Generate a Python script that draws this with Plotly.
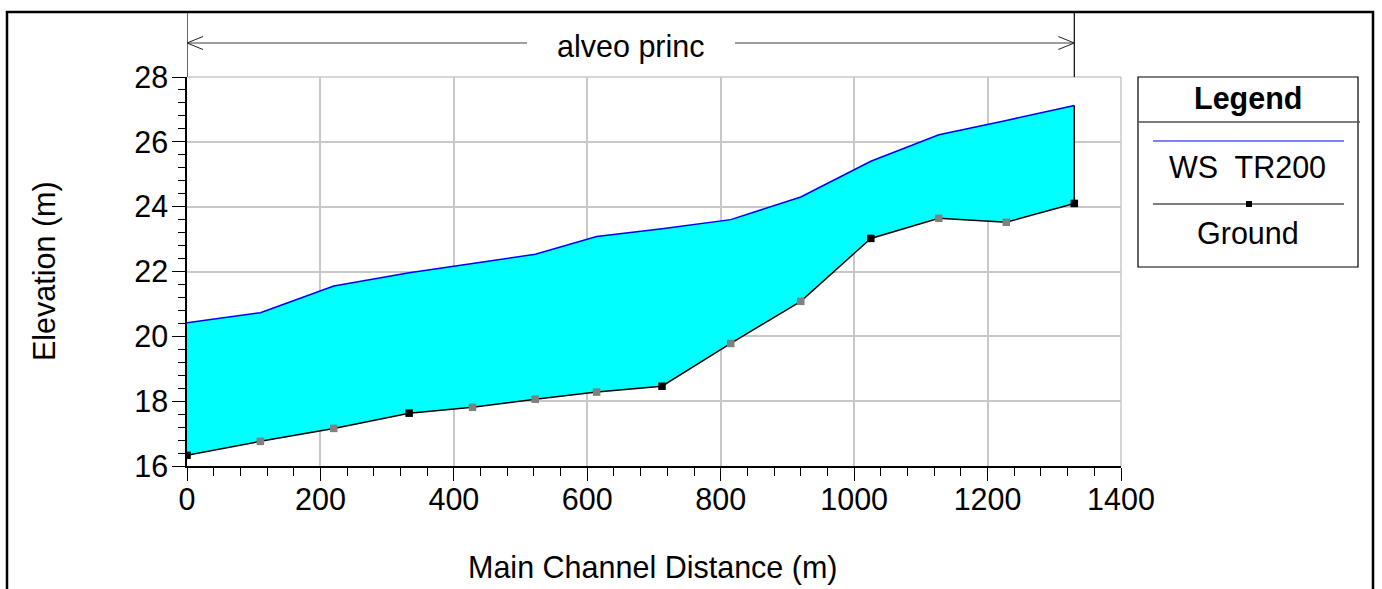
import plotly.graph_objects as go

# ---- data ----
distance = [0, 110, 220, 333, 428, 522, 614, 712, 815, 920, 1025, 1127, 1228, 1330]
ground = [16.33, 16.76, 17.16, 17.63, 17.81, 18.06, 18.28, 18.46, 19.78, 21.08, 23.02, 23.64, 23.52, 24.10]
ws_tr200 = [20.42, 20.73, 21.55, 21.96, 22.25, 22.53, 23.08, 23.32, 23.60, 24.30, 25.40, 26.22, 26.66, 27.12]
marker_is_section = [1, 0, 0, 1, 0, 0, 0, 1, 0, 0, 1, 0, 0, 1]
reach_label = "alveo princ"
x_ticks = [0, 200, 400, 600, 800, 1000, 1200, 1400]
y_ticks = [16, 18, 20, 22, 24, 26, 28]

FONT = "Liberation Sans, Arial, sans-serif"
FS = 30.5

W, H = 1382, 589
L, R, T, B = 187, 1121, 77, 466

def fx(px):
    return (px - L) / (R - L)

def fy(py):
    return (B - py) / (B - T)

fig = go.Figure()

# fill polygon between ground and water surface
fig.add_trace(go.Scatter(x=distance, y=ground, mode="lines",
                         line=dict(color="rgba(0,0,0,0)", width=0),
                         showlegend=False, hoverinfo="skip"))
fig.add_trace(go.Scatter(x=distance, y=ws_tr200, mode="lines", fill="tonexty",
                         fillcolor="#00FFFF", line=dict(color="#0000FF", width=1.5),
                         name="WS  TR200", showlegend=False))
# closing edge at downstream end
fig.add_trace(go.Scatter(x=[distance[-1], distance[-1]], y=[ground[-1], ws_tr200[-1]],
                         mode="lines", line=dict(color="black", width=1.5),
                         showlegend=False, hoverinfo="skip"))
# ground
fig.add_trace(go.Scatter(x=distance, y=ground, mode="lines+markers",
                         line=dict(color="black", width=1.5),
                         marker=dict(symbol="square", size=7.5,
                                     color=["#000000" if m else "#808080" for m in marker_is_section],
                                     line=dict(width=0)),
                         name="Ground", showlegend=False))

shapes = []
# outer frame
shapes.append(dict(type="rect", xref="paper", yref="paper",
                   x0=fx(7), x1=fx(1373), y0=fy(600), y1=fy(12),
                   line=dict(color="black", width=2.5), layer="above"))
# grey top / right borders of grid
shapes.append(dict(type="line", xref="paper", yref="paper", x0=0, x1=1, y0=1, y1=1,
                   line=dict(color="#c8c8c8", width=1.5), layer="below"))
shapes.append(dict(type="line", xref="paper", yref="paper", x0=1, x1=1, y0=0, y1=1,
                   line=dict(color="#c8c8c8", width=1.5), layer="below"))
# reach bank lines
for xv in (distance[0], distance[-1]):
    shapes.append(dict(type="line", xref="x", yref="paper", x0=xv, x1=xv,
                       y0=1, y1=fy(12), line=dict(color="black", width=1.2)))
# arrow
ay = fy(43)
x_left = distance[0]
x_right = distance[-1]
arrow_col = "#404040"
shapes.append(dict(type="line", xref="x", yref="paper", x0=x_left, x1=(527 - L) / (R - L) * 1400,
                   y0=ay, y1=ay, line=dict(color=arrow_col, width=1.2)))
shapes.append(dict(type="line", xref="x", yref="paper", x0=(735 - L) / (R - L) * 1400, x1=x_right,
                   y0=ay, y1=ay, line=dict(color=arrow_col, width=1.2)))
head_dx = 16 / (R - L) * 1400
for tip, sgn in ((x_left, 1), (x_right, -1)):
    for dy in (-6.5, 6.5):
        shapes.append(dict(type="line", xref="x", yref="paper", x0=tip, x1=tip + sgn * head_dx,
                           y0=ay, y1=fy(43 + dy), line=dict(color="#202020", width=1)))

# legend box
shapes.append(dict(type="rect", xref="paper", yref="paper",
                   x0=fx(1138), x1=fx(1358), y0=fy(267), y1=fy(77),
                   line=dict(color="black", width=1.2), fillcolor="white"))
shapes.append(dict(type="line", xref="paper", yref="paper",
                   x0=fx(1138), x1=fx(1360), y0=fy(122), y1=fy(122),
                   line=dict(color="#505050", width=1.5)))
shapes.append(dict(type="line", xref="paper", yref="paper",
                   x0=fx(1153), x1=fx(1344), y0=fy(141), y1=fy(141),
                   line=dict(color="#0000FF", width=1.2)))
shapes.append(dict(type="line", xref="paper", yref="paper",
                   x0=fx(1153), x1=fx(1344), y0=fy(204), y1=fy(204),
                   line=dict(color="black", width=1.2)))
shapes.append(dict(type="rect", xref="paper", yref="paper",
                   x0=fx(1246), x1=fx(1252), y0=fy(207), y1=fy(201),
                   line=dict(color="black", width=0), fillcolor="black"))

annotations = [
    dict(text=reach_label, xref="paper", yref="paper", x=fx(631), y=fy(47),
         showarrow=False, xanchor="center", yanchor="middle", font=dict(size=FS)),
    dict(text="Main Channel Distance (m)", xref="paper", yref="paper", x=fx(653), y=fy(567),
         showarrow=False, xanchor="center", yanchor="middle", font=dict(size=FS)),
    dict(text="Elevation (m)", xref="paper", yref="paper", x=fx(44), y=fy(271),
         showarrow=False, xanchor="center", yanchor="middle", textangle=-90, font=dict(size=FS)),
    dict(text="<b>Legend</b>", xref="paper", yref="paper", x=fx(1248), y=fy(98),
         showarrow=False, xanchor="center", yanchor="middle", font=dict(size=FS)),
    dict(text="WS  TR200", xref="paper", yref="paper", x=fx(1247), y=fy(167),
         showarrow=False, xanchor="center", yanchor="middle", font=dict(size=FS)),
    dict(text="Ground", xref="paper", yref="paper", x=fx(1248), y=fy(233),
         showarrow=False, xanchor="center", yanchor="middle", font=dict(size=FS)),
]

fig.update_layout(
    width=W, height=H,
    margin=dict(l=L, r=W - R, t=T, b=H - B, pad=0),
    paper_bgcolor="white", plot_bgcolor="white",
    font=dict(family=FONT, size=FS, color="black"),
    showlegend=False,
    shapes=shapes, annotations=annotations,
    xaxis=dict(range=[0, 1400], tickvals=x_ticks, ticktext=[str(v) for v in x_ticks],
               showgrid=True, gridcolor="#c8c8c8", gridwidth=1.5,
               showline=True, linecolor="black", linewidth=1.5,
               ticks="outside", ticklen=13, tickcolor="black", tickwidth=1.2,
               minor=dict(dtick=40, ticks="outside", ticklen=8, tickcolor="black", tickwidth=1.2, showgrid=False),
               zeroline=False, fixedrange=True, ticklabelstandoff=-7),
    yaxis=dict(range=[16, 28], tickvals=y_ticks, ticktext=[str(v) for v in y_ticks],
               showgrid=True, gridcolor="#c8c8c8", gridwidth=1.5,
               showline=True, linecolor="black", linewidth=1.5,
               ticks="outside", ticklen=13, tickcolor="black", tickwidth=1.2,
               minor=dict(dtick=0.4, tick0=16, ticks="outside", ticklen=7, tickcolor="black", tickwidth=1.2, showgrid=False),
               zeroline=False, fixedrange=True, ticklabelstandoff=-2),
)

fig.write_html("out.html")
